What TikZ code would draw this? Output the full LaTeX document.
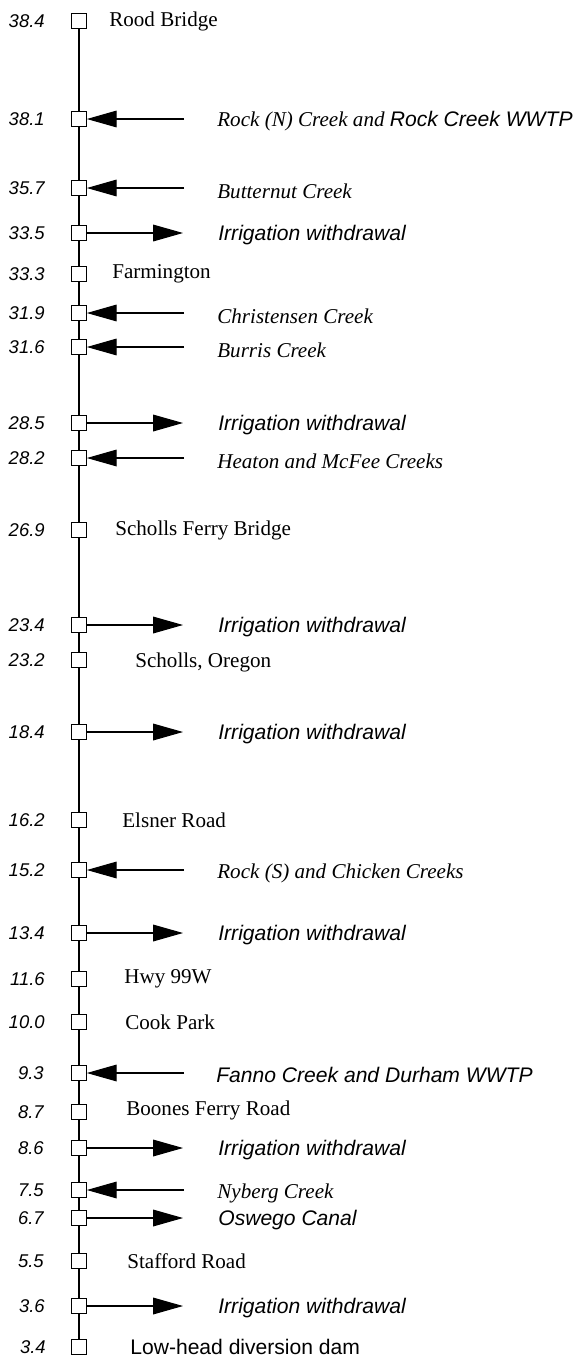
\documentclass[tikz,border=0pt]{standalone}
\usepackage{fontspec}
\setmainfont{Liberation Serif}
\setsansfont{Liberation Sans}
\usetikzlibrary{arrows.meta,backgrounds}

\tikzset{
  station/.style={draw, fill=white, line width=0.6pt, minimum size=8.3pt, inner sep=0pt},
  rivermile/.style={anchor=east, inner sep=0pt, font=\sffamily\itshape\fontsize{10.5}{12}\selectfont},
  place/.style={anchor=west, inner sep=0pt, font=\fontsize{12}{14}\selectfont},
  creek/.style={anchor=west, inner sep=0pt, font=\itshape\fontsize{12}{14}\selectfont},
  takeoff/.style={anchor=west, inner sep=0pt, font=\sffamily\itshape\fontsize{12}{14}\selectfont},
  inflow/.style={line width=0.6pt, -{Triangle[length=17pt, width=9.5pt]}},
  outflow/.style={line width=0.6pt, -{Triangle[length=17pt, width=9.5pt]}}
}

\begin{document}
\begin{tikzpicture}[x=0.02cm, y=-0.02cm]

    % --- Page frame ---
    \useasboundingbox (0,0) rectangle (577,1357);

    % --- Stations along the river ---
    \node[station] (s384) at (79,21) {};
    \node[station] (s381) at (79,119) {};
    \node[station] (s357) at (79,188) {};
    \node[station] (s335) at (79,233) {};
    \node[station] (s333) at (79,274) {};
    \node[station] (s319) at (79,313) {};
    \node[station] (s316) at (79,347) {};
    \node[station] (s285) at (79,423) {};
    \node[station] (s282) at (79,458) {};
    \node[station] (s269) at (79,530) {};
    \node[station] (s234) at (79,625) {};
    \node[station] (s232) at (79,660) {};
    \node[station] (s184) at (79,732) {};
    \node[station] (s162) at (79,820) {};
    \node[station] (s152) at (79,870) {};
    \node[station] (s134) at (79,933) {};
    \node[station] (s116) at (79,979) {};
    \node[station] (s100) at (79,1022) {};
    \node[station] (s93) at (79,1073) {};
    \node[station] (s87) at (79,1112) {};
    \node[station] (s86) at (79,1148) {};
    \node[station] (s75) at (79,1190) {};
    \node[station] (s67) at (79,1218) {};
    \node[station] (s55) at (79,1261) {};
    \node[station] (s36) at (79,1306) {};
    \node[station] (s34) at (79,1347) {};

    % River line behind the stations
    \begin{scope}[on background layer]
      \draw[line width=0.6pt] (s384) -- (s34);
    \end{scope}

    % --- River miles ---
    \node[rivermile] (k384) at (45,21) {38.4};
    \node[rivermile] (k381) at (45,119) {38.1};
    \node[rivermile] (k357) at (45,188) {35.7};
    \node[rivermile] (k335) at (45,233) {33.5};
    \node[rivermile] (k333) at (45,274) {33.3};
    \node[rivermile] (k319) at (45,313) {31.9};
    \node[rivermile] (k316) at (45,347) {31.6};
    \node[rivermile] (k285) at (45,423) {28.5};
    \node[rivermile] (k282) at (45,458) {28.2};
    \node[rivermile] (k269) at (45,530) {26.9};
    \node[rivermile] (k234) at (45,625) {23.4};
    \node[rivermile] (k232) at (45,660) {23.2};
    \node[rivermile] (k184) at (45,732) {18.4};
    \node[rivermile] (k162) at (45,820) {16.2};
    \node[rivermile] (k152) at (45,870) {15.2};
    \node[rivermile] (k134) at (45,933) {13.4};
    \node[rivermile] (k116) at (45,979) {11.6};
    \node[rivermile] (k100) at (45,1022) {10.0};
    \node[rivermile] (k93) at (44,1073) {9.3};
    \node[rivermile] (k87) at (44,1112) {8.7};
    \node[rivermile] (k86) at (44,1148) {8.6};
    \node[rivermile] (k75) at (44,1190) {7.5};
    \node[rivermile] (k67) at (44,1218) {6.7};
    \node[rivermile] (k55) at (44,1261) {5.5};
    \node[rivermile] (k36) at (45,1306) {3.6};
    \node[rivermile] (k34) at (46,1347) {3.4};

    % --- Landmarks ---
    \node[place] (t384) at (109,21) {Rood Bridge};
    \node[place] (t333) at (112,274) {Farmington};
    \node[place] (t269) at (115,530) {Scholls Ferry Bridge};
    \node[place] (t232) at (135,662) {Scholls, Oregon};
    \node[place] (t162) at (122,820) {Elsner Road};
    \node[place] (t116) at (124,979) {Hwy 99W};
    \node[place] (t100) at (125,1022) {Cook Park};
    \node[place] (t87) at (126,1110) {Boones Ferry Road};
    \node[place] (t55) at (127,1261) {Stafford Road};
    \node[place, font=\sffamily\fontsize{12}{14}\selectfont] (t34) at (130,1347) {Low-head diversion dam};

    % --- Tributaries (inflows) ---
    \coordinate (in381) at (184,119);
    \coordinate (in357) at (184,188);
    \coordinate (in319) at (184,313);
    \coordinate (in316) at (184,347);
    \coordinate (in282) at (184,458);
    \coordinate (in152) at (184,870);
    \coordinate (in93) at (184,1073);
    \coordinate (in75) at (184,1190);

    \draw[inflow] (in381) -- (s381.east);
    \draw[inflow] (in357) -- (s357.east);
    \draw[inflow] (in319) -- (s319.east);
    \draw[inflow] (in316) -- (s316.east);
    \draw[inflow] (in282) -- (s282.east);
    \draw[inflow] (in152) -- (s152.east);
    \draw[inflow] (in93) -- (s93.east);
    \draw[inflow] (in75) -- (s75.east);

    \node[creek] (c381) at (217,121) {Rock (N) Creek and {\sffamily Rock Creek WWTP}};
    \node[creek] (c357) at (217,191) {Butternut Creek};
    \node[creek] (c319) at (217,316) {Christensen Creek};
    \node[creek] (c316) at (217,350) {Burris Creek};
    \node[creek] (c282) at (217,461) {Heaton and McFee Creeks};
    \node[creek] (c152) at (217,873) {Rock (S) and Chicken Creeks};
    \node[takeoff] (c93) at (216,1075) {Fanno Creek and Durham WWTP};
    \node[creek] (c75) at (217,1193) {Nyberg Creek};

    % --- Withdrawals (outflows) ---
    \coordinate (out335) at (183,233);
    \coordinate (out285) at (183,423);
    \coordinate (out234) at (183,625);
    \coordinate (out184) at (183,732);
    \coordinate (out134) at (183,933);
    \coordinate (out86) at (183,1148);
    \coordinate (out67) at (183,1218);
    \coordinate (out36) at (183,1306);

    \draw[outflow] (s335.east) -- (out335);
    \draw[outflow] (s285.east) -- (out285);
    \draw[outflow] (s234.east) -- (out234);
    \draw[outflow] (s184.east) -- (out184);
    \draw[outflow] (s134.east) -- (out134);
    \draw[outflow] (s86.east) -- (out86);
    \draw[outflow] (s67.east) -- (out67);
    \draw[outflow] (s36.east) -- (out36);

    \node[takeoff] (w335) at (218,235) {Irrigation withdrawal};
    \node[takeoff] (w285) at (218,425) {Irrigation withdrawal};
    \node[takeoff] (w234) at (218,627) {Irrigation withdrawal};
    \node[takeoff] (w184) at (218,734) {Irrigation withdrawal};
    \node[takeoff] (w134) at (218,935) {Irrigation withdrawal};
    \node[takeoff] (w86) at (218,1150) {Irrigation withdrawal};
    \node[takeoff] (w67) at (218,1220) {Oswego Canal};
    \node[takeoff] (w36) at (218,1308) {Irrigation withdrawal};

\end{tikzpicture}
\end{document}
